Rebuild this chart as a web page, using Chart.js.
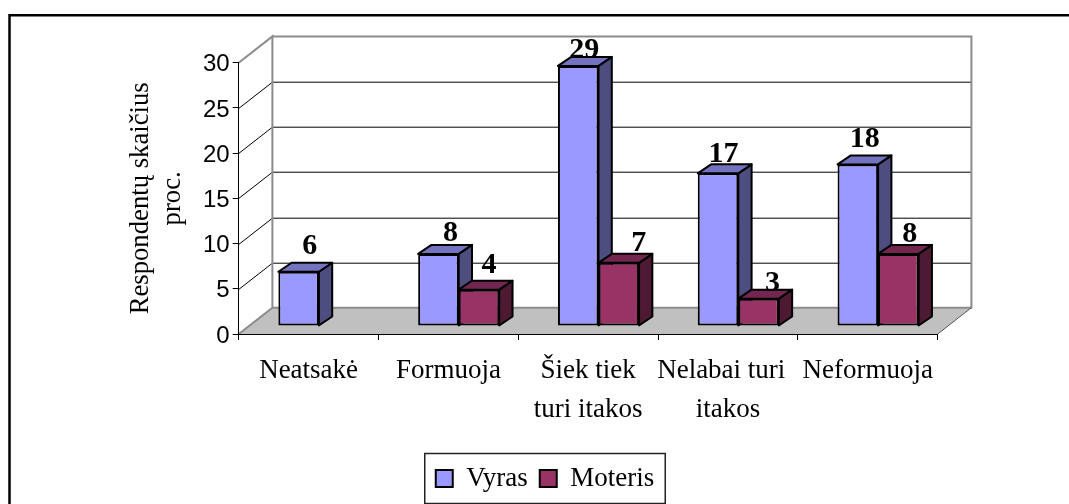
<!DOCTYPE html>
<html>
<head>
<meta charset="utf-8">
<style>
  html, body { margin: 0; padding: 0; background: #fff; }
  #wrap { width: 1069px; height: 504px; }
</style>
<script src="https://cdn.jsdelivr.net/npm/chart.js@4"></script>
</head>
<body>
<div id="wrap"><canvas id="chart"></canvas></div>
<script>
const categories = ["Neatsakė", "Formuoja", ["Šiek tiek", "turi itakos"], ["Nelabai turi", "itakos"], "Neformuoja"];
const vyras = [6, 8, 29, 17, 18];
const moteris = [null, 4, 7, 3, 8];
const yTitle = ["Respondentų skaičius", "proc."];

// Excel style 3D offsets, in pixels
const wallDx = 33.7, wallDy = 26.3;
const barShiftX = 10.3;
const barDx = 13.3, barDy = 9;

// Hand placed data labels in the original, offset from the bar's top centre
const labelNudge = [
  [[11, -26], [12, -21], [6, -16], [5.5, -19], [7, -25]],
  [null, [10, -24], [20, -20], [14, -15.6], [11.5, -19.6]]
];
const sideColors = ["#4d4d80", "#4d1933"];
const topColors = ["#7373bf", "#732650"];

const font = "'Liberation Serif'";

const chart3d = {
  id: "chart3d",
  // walls and floor go under the axes
  beforeDraw(chart) {
    const { ctx, chartArea: a, scales } = chart;
    const y = scales.y;
    const y0 = y.getPixelForValue(0), y30 = y.getPixelForValue(30);
    ctx.save();
    ctx.fillStyle = "#c0c0c0";
    ctx.beginPath();
    ctx.moveTo(a.left, y0);
    ctx.lineTo(a.right, y0);
    ctx.lineTo(a.right + wallDx, y0 - wallDy);
    ctx.lineTo(a.left + wallDx, y0 - wallDy);
    ctx.closePath();
    ctx.fill();

    // gridlines: along the side wall, then along the back wall
    ctx.strokeStyle = "#000";
    ctx.lineWidth = 1;
    y.ticks.forEach((t) => {
      if (t.value === 0 || t.value === 30) return;
      const py = Math.round(y.getPixelForValue(t.value)) + 0.5;
      ctx.beginPath();
      ctx.moveTo(a.left, py);
      ctx.lineTo(a.left + wallDx, py - wallDy);
      ctx.lineTo(a.right + wallDx, py - wallDy);
      ctx.stroke();
    });

    ctx.strokeStyle = "#8c8c8c";
    ctx.lineWidth = 2;
    ctx.beginPath();
    ctx.moveTo(a.left, y0);
    ctx.lineTo(a.left + wallDx, y0 - wallDy);
    ctx.lineTo(a.left + wallDx, y30 - wallDy);
    ctx.lineTo(a.left, y30);
    ctx.moveTo(a.left + wallDx, y30 - wallDy);
    ctx.lineTo(a.right + wallDx, y30 - wallDy);
    ctx.lineTo(a.right + wallDx, y0 - wallDy);
    ctx.lineTo(a.left + wallDx, y0 - wallDy);
    ctx.stroke();
    ctx.lineWidth = 1;
    ctx.strokeStyle = "#555";
    ctx.beginPath();
    ctx.moveTo(a.right, y0);
    ctx.lineTo(a.right + wallDx, y0 - wallDy);
    ctx.stroke();
    ctx.restore();
  },
  // draw the bars ourselves so each dataset sits in front of the previous one
  beforeDatasetsDraw(chart) {
    const { ctx } = chart;
    ctx.save();
    ctx.translate(barShiftX, 0);
    chart.getSortedVisibleDatasetMetas().forEach((meta) => {
      const k = meta.index;
      meta.data.forEach((bar, i) => {
        if (chart.data.datasets[k].data[i] === null) return;
        const l = bar.x - bar.width / 2, r = bar.x + bar.width / 2;
        const t = bar.y, b = bar.base;
        ctx.lineWidth = 2;
        ctx.lineJoin = "round";
        ctx.strokeStyle = "#000";
        ctx.fillStyle = sideColors[k];
        ctx.beginPath();
        ctx.moveTo(r, t);
        ctx.lineTo(r + barDx, t - barDy);
        ctx.lineTo(r + barDx, b - barDy);
        ctx.lineTo(r, b);
        ctx.closePath();
        ctx.fill();
        ctx.stroke();
        ctx.fillStyle = topColors[k];
        ctx.beginPath();
        ctx.moveTo(l, t);
        ctx.lineTo(l + barDx, t - barDy);
        ctx.lineTo(r + barDx, t - barDy);
        ctx.lineTo(r, t);
        ctx.closePath();
        ctx.fill();
        ctx.stroke();
        bar.draw(ctx);
      });
    });
    ctx.restore();
  },
  beforeDatasetDraw() {
    return false;
  },
  afterDatasetsDraw(chart) {
    const { ctx } = chart;
    ctx.save();
    ctx.font = "bold 30px " + font;
    ctx.fillStyle = "#000";
    ctx.textAlign = "center";
    ctx.textBaseline = "middle";
    chart.getSortedVisibleDatasetMetas().forEach((meta) => {
      const k = meta.index;
      meta.data.forEach((bar, i) => {
        const value = chart.data.datasets[k].data[i];
        if (value === null) return;
        const n = labelNudge[k][i];
        ctx.fillText(value, bar.x + barShiftX + n[0], bar.y + n[1]);
      });
    });
    ctx.restore();
  },
  afterDraw(chart) {
    const { ctx, legend } = chart;
    ctx.save();
    ctx.strokeStyle = "#000";
    ctx.lineWidth = 2.5;
    // frame around the whole chart
    ctx.beginPath();
    ctx.moveTo(9.5, 504);
    ctx.lineTo(9.5, 15.3);
    ctx.lineTo(1069, 15.3);
    ctx.stroke();
    // frame around the legend
    const hb = legend.legendHitBoxes;
    const left = hb[0].left - 11;
    const right = hb[hb.length - 1].left + hb[hb.length - 1].width + 11;
    ctx.lineWidth = 1.5;
    ctx.strokeStyle = "#222";
    ctx.strokeRect(left, 453.5, right - left, 50);
    ctx.restore();
  }
};

Chart.defaults.animation = false;

new Chart(document.getElementById("chart"), {
  type: "bar",
  data: {
    labels: categories,
    datasets: [
      { label: "Vyras", data: vyras, backgroundColor: "#9999ff", borderColor: "#000", borderWidth: 2, borderSkipped: false, yAxisID: "yBars" },
      { label: "Moteris", data: moteris, backgroundColor: "#993366", borderColor: "#000", borderWidth: 2, borderSkipped: false, yAxisID: "yBars" }
    ]
  },
  options: {
    responsive: true,
    maintainAspectRatio: false,
    animation: false,
    layout: { padding: { left: 125, right: 104, top: 62.7, bottom: 2 } },
    datasets: { bar: { barPercentage: 1, categoryPercentage: 0.58 } },
    scales: {
      x: {
        offset: true,
        grid: { offset: true, drawOnChartArea: false, color: "#000", tickLength: 6, tickWidth: 1 },
        border: { color: "#000", width: 1 },
        ticks: {
          autoSkip: false,
          maxRotation: 0,
          padding: 12,
          color: "#000",
          font: { family: font, size: 27, lineHeight: 1.43 },
          // the second line of this label is off centre in the original
          callback(value, i) {
            const label = categories[i];
            return i === 3 ? [label[0] + "  ", label[1]] : label;
          }
        },
        afterFit(scale) { scale.height = 119; }
      },
      y: {
        min: 0,
        max: 30,
        ticks: { stepSize: 5, padding: 3, labelOffset: 2, color: "#000", font: { family: "'Liberation Sans'", size: 24 } },
        grid: { drawOnChartArea: false, color: "#000", tickLength: 6, tickWidth: 1 },
        border: { color: "#000", width: 1 },
        title: {
          display: true,
          text: yTitle,
          color: "#000",
          font: { family: font, size: 26.7, lineHeight: 1.2 },
          padding: { top: 0, bottom: 0 }
        },
        afterFit(scale) { scale.width = 113.7; }
      },
      // bars stand a little inside the floor, so they get their own hidden scale
      yBars: {
        position: "right",
        min: -0.95,
        max: 29.36,
        grid: { display: false },
        border: { display: false },
        ticks: { display: false },
        afterFit(scale) { scale.width = 27.3; }
      }
    },
    plugins: {
      legend: {
        position: "bottom",
        labels: {
          boxWidth: 17,
          boxHeight: 17,
          padding: 12,
          color: "#000",
          font: { family: font, size: 27 }
        }
      },
      tooltip: { enabled: false }
    }
  },
  plugins: [chart3d]
});
</script>
</body>
</html>
